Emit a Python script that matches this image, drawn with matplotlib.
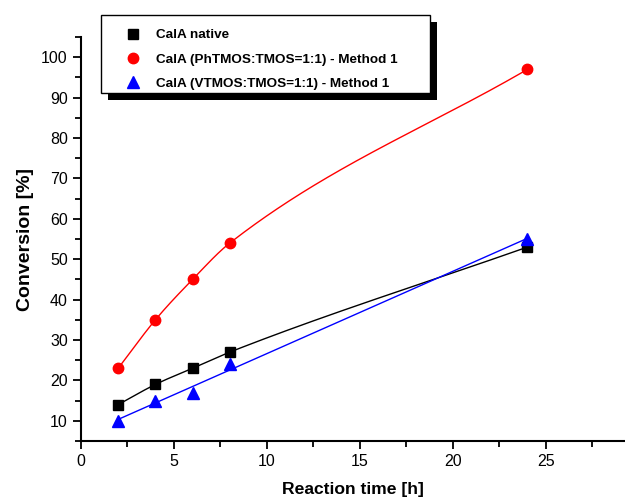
import numpy as np
import matplotlib
matplotlib.use("Agg")
import matplotlib.pyplot as plt
from matplotlib.patches import Rectangle
from matplotlib.ticker import MultipleLocator

plt.rcParams['font.family'] = ['Liberation Sans', 'DejaVu Sans']

time_h = [2, 4, 6, 8, 24]
native = [14, 19, 23, 27, 53]
phtmos = [23, 35, 45, 54, 97]
vtmos = [10, 15, 17, 24, 55]

labels = ['CalA native',
          'CalA (PhTMOS:TMOS=1:1) - Method 1',
          'CalA (VTMOS:TMOS=1:1) - Method 1']


def smooth(x, y, xs):
    # cubic hermite through the points, tangents = mean of neighbouring slopes
    x = np.asarray(x, float)
    y = np.asarray(y, float)
    sec = np.diff(y) / np.diff(x)
    m = np.empty(len(x))
    m[0], m[-1] = sec[0], sec[-1]
    m[1:-1] = (sec[:-1] + sec[1:]) / 2
    k = np.clip(np.searchsorted(x, xs) - 1, 0, len(x) - 2)
    h = x[k + 1] - x[k]
    t = (xs - x[k]) / h
    h00 = 2 * t**3 - 3 * t**2 + 1
    h10 = t**3 - 2 * t**2 + t
    h01 = -2 * t**3 + 3 * t**2
    h11 = t**3 - t**2
    return h00 * y[k] + h10 * h * m[k] + h01 * y[k + 1] + h11 * h * m[k + 1]


fig = plt.figure(figsize=(6.25, 5.01), dpi=100)
ax = fig.add_axes([0.1296, 0.1198, 0.8704, 0.8062])

xx = np.linspace(min(time_h), max(time_h), 300)
ax.plot(xx, smooth(time_h, native, xx), color='black', lw=1.0)
ax.plot(xx, smooth(time_h, phtmos, xx), color='red', lw=1.0)
ax.plot(xx, np.polyval(np.polyfit(time_h, vtmos, 1), xx), color='blue', lw=1.0)

ax.plot(time_h, native, 's', color='black', ms=7, label=labels[0])
ax.plot(time_h, phtmos, 'o', color='red', ms=7.5, label=labels[1])
ax.plot(time_h, vtmos, '^', color='blue', ms=8, label=labels[2])

ax.set_xlim(0, 29.25)
ax.set_ylim(5, 105)
ax.xaxis.set_major_locator(MultipleLocator(5))
ax.xaxis.set_minor_locator(MultipleLocator(2.5))
ax.yaxis.set_minor_locator(MultipleLocator(5))
ax.set_yticks(range(10, 101, 10))
ax.tick_params(which='major', direction='out', length=6, width=1.3, labelsize=11.5)
ax.tick_params(which='minor', direction='out', length=4, width=1.3)

for s in ['top', 'right']:
    ax.spines[s].set_visible(False)
for s in ['left', 'bottom']:
    ax.spines[s].set_linewidth(1.5)

ax.set_xlabel('Reaction time [h]', fontsize=12.6, fontweight='bold', labelpad=9)
ax.set_ylabel('Conversion [%]', fontsize=14, fontweight='bold', labelpad=5)

# legend box with black drop shadow
shadow = Rectangle((0.1728, 0.8004), 0.5264, 0.1557, transform=fig.transFigure,
                   facecolor='black', edgecolor='none', clip_on=False, zorder=9)
frame = Rectangle((0.1616, 0.8144), 0.5264, 0.1557, transform=fig.transFigure,
                  facecolor='white', edgecolor='black', lw=1.0, clip_on=False, zorder=10)
ax.add_patch(shadow)
ax.add_patch(frame)

leg = ax.legend(loc='upper left', bbox_to_anchor=(0.1912, 0.9425),
                bbox_transform=fig.transFigure, borderaxespad=0, borderpad=0,
                frameon=False, prop={'weight': 'bold', 'size': 9.7},
                handlelength=2, handletextpad=0.7, labelspacing=0.88)
leg.set_zorder(11)

fig.savefig('out.png', dpi=100)
